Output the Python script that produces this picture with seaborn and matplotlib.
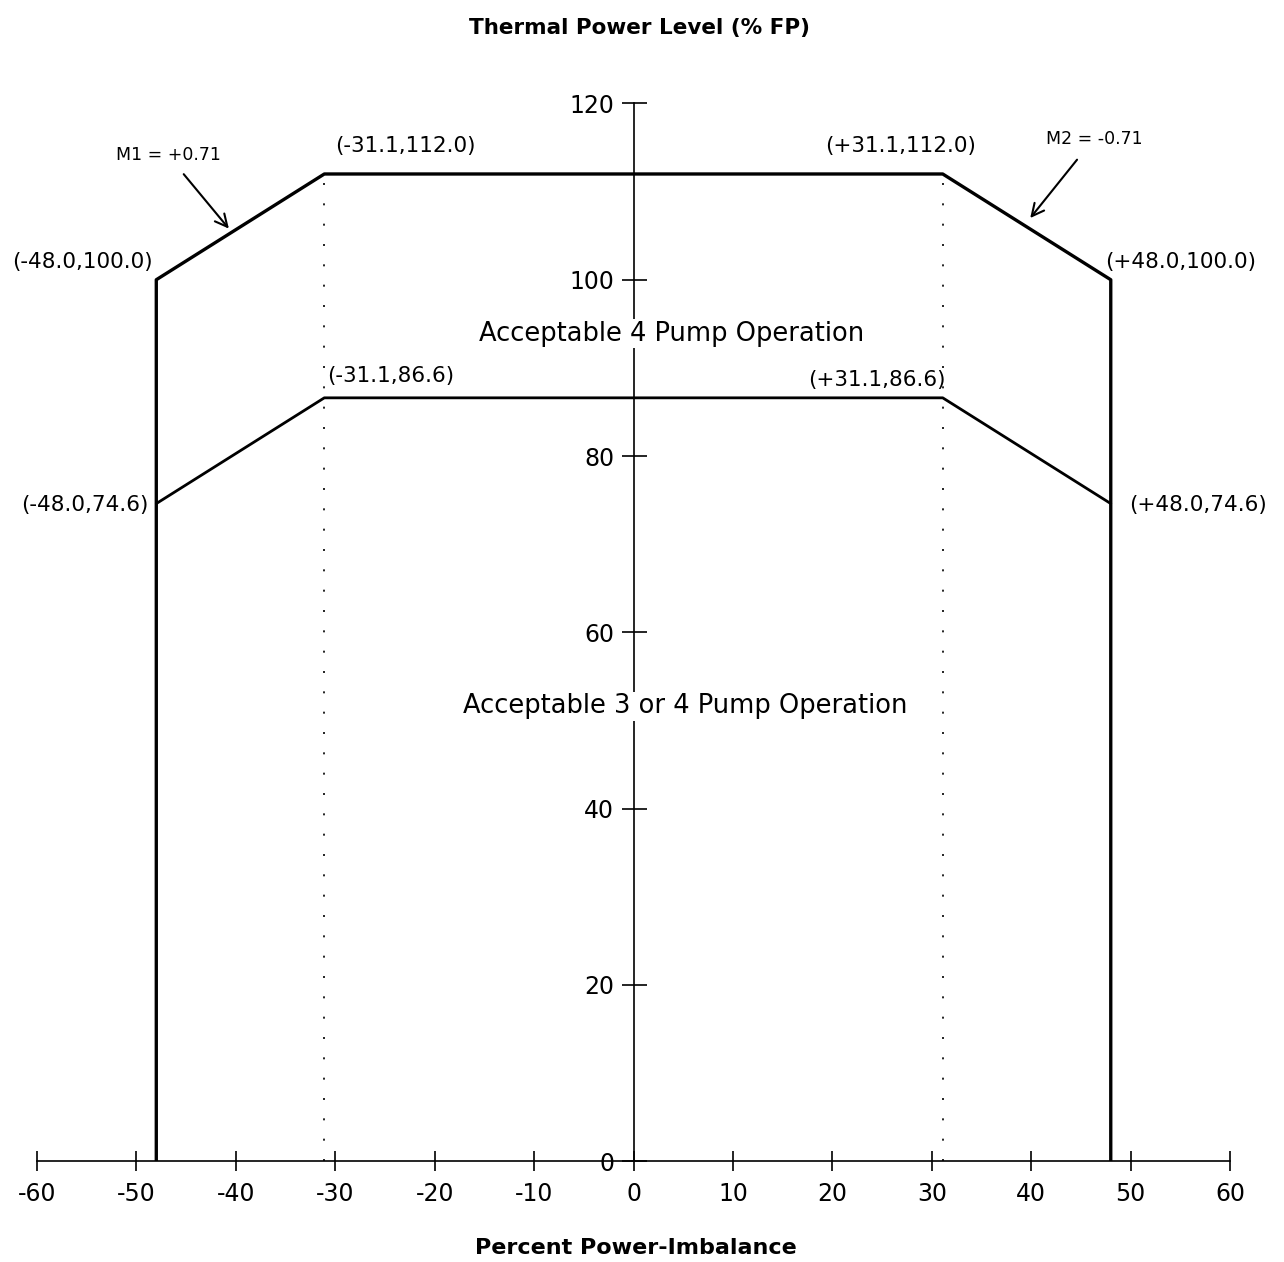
import matplotlib
matplotlib.use("Agg")
import matplotlib.pyplot as plt
import seaborn as sns

# data
outer_x = [-48.0, -48.0, -31.1, 31.1, 48.0, 48.0]
outer_y = [0.0, 100.0, 112.0, 112.0, 100.0, 0.0]
inner_x = [-48.0, -31.1, 31.1, 48.0]
inner_y = [74.6, 86.6, 86.6, 74.6]
break_x = [-31.1, 31.1]
break_top = 112.0
x_ticks = [-60, -50, -40, -30, -20, -10, 0, 10, 20, 30, 40, 50, 60]
y_ticks = [0, 20, 40, 60, 80, 100, 120]
point_labels = ["(-48.0,100.0)", "(-31.1,112.0)", "(+31.1,112.0)", "(+48.0,100.0)",
                "(-48.0,74.6)", "(-31.1,86.6)", "(+31.1,86.6)", "(+48.0,74.6)"]

sns.set_style("white")
plt.rcParams['font.family'] = ['DejaVu Sans']
plt.rcParams['axes.unicode_minus'] = False
plt.rcParams['text.color'] = "black"
plt.rcParams['xtick.color'] = "black"
plt.rcParams['ytick.color'] = "black"

fig = plt.figure(figsize = (12.84, 12.62), dpi = 100)
ax = fig.add_axes([0.0288, 0.080, 0.9292, 0.838])

sns.lineplot(x = outer_x, y = outer_y, sort = False, estimator = None, color = "black", linewidth = 2.4, ax = ax)
sns.lineplot(x = inner_x, y = inner_y, sort = False, estimator = None, color = "black", linewidth = 2.0, ax = ax)
for bx in break_x:
    ax.plot([bx, bx], [0, break_top], color = "black", linewidth = 1.2, linestyle = (0, (1.2, 11)))

ax.set_xlim(-60, 60)
ax.set_ylim(0, 120)
ax.spines["left"].set_position(("data", 0))
ax.spines["bottom"].set_position(("data", 0))
ax.spines["top"].set_visible(False)
ax.spines["right"].set_visible(False)
for s in ["left", "bottom"]:
    ax.spines[s].set_linewidth(1.2)
    ax.spines[s].set_color("black")
ax.set_xticks(x_ticks)
ax.set_yticks(y_ticks)
ax.tick_params(axis = "x", bottom = True, direction = "inout", length = 14, width = 1.2, pad = 8, labelsize = 17, colors = "black")
ax.tick_params(axis = "y", left = True, direction = "inout", length = 18, width = 1.2, pad = 5, labelsize = 17, colors = "black")

fs = 15.5
ax.text(-48.4, 102.0, point_labels[0], ha = "right", va = "center", fontsize = fs)
ax.text(-30.0, 115.2, point_labels[1], ha = "left", va = "center", fontsize = fs)
ax.text(34.4, 115.2, point_labels[2], ha = "right", va = "center", fontsize = fs)
ax.text(47.4, 102.0, point_labels[3], ha = "left", va = "center", fontsize = fs)
ax.text(-48.8, 74.4, point_labels[4], ha = "right", va = "center", fontsize = fs)
ax.text(-30.8, 89.1, point_labels[5], ha = "left", va = "center", fontsize = fs)
ax.text(31.4, 88.6, point_labels[6], ha = "right", va = "center", fontsize = fs)
ax.text(49.8, 74.4, point_labels[7], ha = "left", va = "center", fontsize = fs)

ax.text(3.8, 93.9, "Acceptable 4 Pump Operation", ha = "center", va = "center", fontsize = 18.5,
        bbox = dict(facecolor = "white", edgecolor = "none", pad = 1))
ax.text(5.2, 51.6, "Acceptable 3 or 4 Pump Operation", ha = "center", va = "center", fontsize = 18.5,
        bbox = dict(facecolor = "white", edgecolor = "none", pad = 1))

ax.annotate("M1 = +0.71", xy = (-40.7, 105.8), xytext = (-46.8, 114.1), ha = "center", va = "center",
            fontsize = 12.5, arrowprops = dict(arrowstyle = "->", color = "black", lw = 1.5, mutation_scale = 22,
                                                shrinkA = 6, shrinkB = 0))
ax.annotate("M2 = -0.71", xy = (39.9, 107.0), xytext = (46.3, 116.0), ha = "center", va = "center",
            fontsize = 12.5, arrowprops = dict(arrowstyle = "->", color = "black", lw = 1.5, mutation_scale = 22,
                                                shrinkA = 8, shrinkB = 0))

fig.text(0.498, 0.978, "Thermal Power Level (% FP)", ha = "center", va = "center", fontsize = 15.5, fontweight = "bold")
fig.text(0.495, 0.011, "Percent Power-Imbalance", ha = "center", va = "center", fontsize = 16, fontweight = "bold")

fig.savefig("out.png", dpi = 100)
